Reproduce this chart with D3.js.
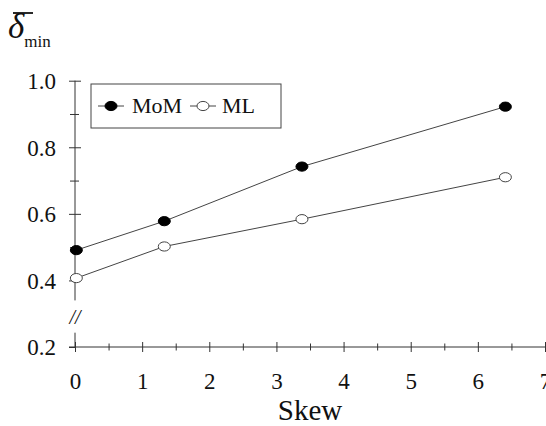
<!DOCTYPE html>
<html lang="en">
    <head>
        <meta charset="utf-8">
        <script type="text/javascript" src="https://cdn.jsdelivr.net/npm/d3@7"></script>
        <title>Delta min vs skew</title>
        <style>
          body { margin: 0; background: #fff; }
          svg text { font-family: "Liberation Serif", "DejaVu Serif", serif !important; fill: #111; }
        </style>
    </head>
    <body>
        <script type="text/javascript">
          // data
          var skew = [0.02, 1.33, 3.38, 6.41];
          var mom = [0.491, 0.578, 0.742, 0.922];
          var ml = [0.407, 0.502, 0.584, 0.710];
          var xTicks = [0, 1, 2, 3, 4, 5, 6, 7];
          var yTicks = [0.2, 0.4, 0.6, 0.8, 1.0];

          var w = 546;
          var h = 426;

          var svg = d3.select("body").append("svg")
                      .attr("width", w)
                      .attr("height", h);

          // scales
          var xscale = d3.scaleLinear().domain([0, 7]).range([75, 545]);
          var yscale = d3.scaleLinear().domain([0.2, 1.0]).range([347, 80.7]);

          var axisColor = "#333";

          // x axis
          var xaxis = svg.append("g")
            .attr("transform", "translate(0," + yscale(0.2) + ")")
            .call(d3.axisBottom(xscale).tickValues(xTicks).tickFormat(d3.format("d")));
          xaxis.attr("font-family", null);
          xaxis.select(".domain").remove();
          xaxis.append("line")
            .attr("x1", xscale(0) - 6).attr("x2", xscale(7))
            .attr("stroke", axisColor);
          xaxis.selectAll(".tick line").attr("y1", -5).attr("y2", 5).attr("stroke", axisColor);
          xaxis.selectAll(".tick text")
            .attr("y", 42).attr("dy", 0)
            .style("font-size", "23px");

          // x minor ticks
          var xminor = svg.append("g")
            .attr("transform", "translate(0," + yscale(0.2) + ")")
            .call(d3.axisBottom(xscale).tickValues([0.5, 1.5, 2.5, 3.5, 4.5, 5.5, 6.5]).tickFormat(""));
          xminor.select(".domain").remove();
          xminor.selectAll(".tick line").attr("y1", -3.5).attr("y2", 3.5).attr("stroke", axisColor);

          // y axis (broken between 0.2 and 0.4)
          var yaxis = svg.append("g")
            .attr("transform", "translate(" + xscale(0) + ",0)")
            .call(d3.axisLeft(yscale).tickValues(yTicks).tickFormat(d3.format(".1f")));
          yaxis.attr("font-family", null);
          yaxis.select(".domain").remove();
          yaxis.append("line")
            .attr("y1", yscale(1.0)).attr("y2", yscale(0.34))
            .attr("stroke", axisColor);
          yaxis.append("line")
            .attr("y1", yscale(0.243)).attr("y2", yscale(0.2))
            .attr("stroke", axisColor);
          yaxis.selectAll(".tick line").attr("x1", -6).attr("x2", 6).attr("stroke", axisColor);
          yaxis.selectAll(".tick")
            .filter(function(d) { return d === 0.2; })
            .select("line").attr("x2", 0);
          yaxis.selectAll(".tick text")
            .attr("x", -19).attr("dy", "0.34em")
            .style("font-size", "23px");

          // y minor ticks
          var yminor = svg.append("g")
            .attr("transform", "translate(" + xscale(0) + ",0)")
            .call(d3.axisLeft(yscale).tickValues([0.5, 0.7, 0.9]).tickFormat(""));
          yminor.select(".domain").remove();
          yminor.selectAll(".tick line").attr("x1", -5).attr("x2", 4).attr("stroke", axisColor);

          // break mark
          svg.append("text")
            .attr("x", xscale(0))
            .attr("y", yscale(0.27))
            .attr("text-anchor", "middle")
            .style("font-size", "20px")
            .style("font-style", "italic")
            .text("//");

          // y label: delta bar with subscript min
          var ylab = svg.append("text")
            .attr("x", 8)
            .attr("y", 38);
          ylab.append("tspan")
            .style("font-size", "35px")
            .style("font-style", "italic")
            .text("\u03B4");
          ylab.append("tspan")
            .attr("dx", 0)
            .attr("dy", 9)
            .style("font-size", "17px")
            .text("min");
          svg.append("line")
            .attr("x1", 13).attr("x2", 33)
            .attr("y1", 13).attr("y2", 13)
            .attr("stroke", "#111")
            .attr("stroke-width", 1.8);

          // x label
          svg.append("text")
            .attr("x", xscale(3.5))
            .attr("y", 420)
            .attr("text-anchor", "middle")
            .style("font-size", "29px")
            .text("Skew");

          // series
          var series = [
            {name: "MoM", values: mom, fill: "#000"},
            {name: "ML", values: ml, fill: "#fff"}
          ];
          var line = d3.line()
            .x(function(d, i) { return xscale(skew[i]); })
            .y(function(d) { return yscale(d); });

          series.forEach(function(s) {
            svg.append("path")
              .attr("d", line(s.values))
              .attr("fill", "none")
              .attr("stroke", "#444")
              .attr("stroke-width", 1);
            svg.selectAll(null)
              .data(s.values)
              .enter()
              .append("ellipse")
              .attr("cx", function(d, i) { return xscale(skew[i]); })
              .attr("cy", function(d) { return yscale(d); })
              .attr("rx", 6)
              .attr("ry", 4.6)
              .attr("fill", s.fill)
              .attr("stroke", s.fill === "#000" ? "#000" : "#444")
              .attr("stroke-width", 1);
          });

          // legend
          var legend = svg.append("g");
          legend.append("rect")
            .attr("x", 91).attr("y", 84)
            .attr("width", 190).attr("height", 44)
            .attr("fill", "#fff")
            .attr("stroke", "#444");
          var items = [
            {name: "MoM", fill: "#000", x: 98, tx: 132},
            {name: "ML", fill: "#fff", x: 190, tx: 222}
          ];
          items.forEach(function(it) {
            legend.append("line")
              .attr("x1", it.x).attr("x2", it.x + 26)
              .attr("y1", 106).attr("y2", 106)
              .attr("stroke", "#444");
            legend.append("ellipse")
              .attr("cx", it.x + 13).attr("cy", 106)
              .attr("rx", 6).attr("ry", 4.6)
              .attr("fill", it.fill)
              .attr("stroke", it.fill === "#000" ? "#000" : "#444");
            legend.append("text")
              .attr("x", it.tx).attr("y", 113)
              .style("font-size", "22px")
              .text(it.name);
          });
        </script>
    </body>
</html>
